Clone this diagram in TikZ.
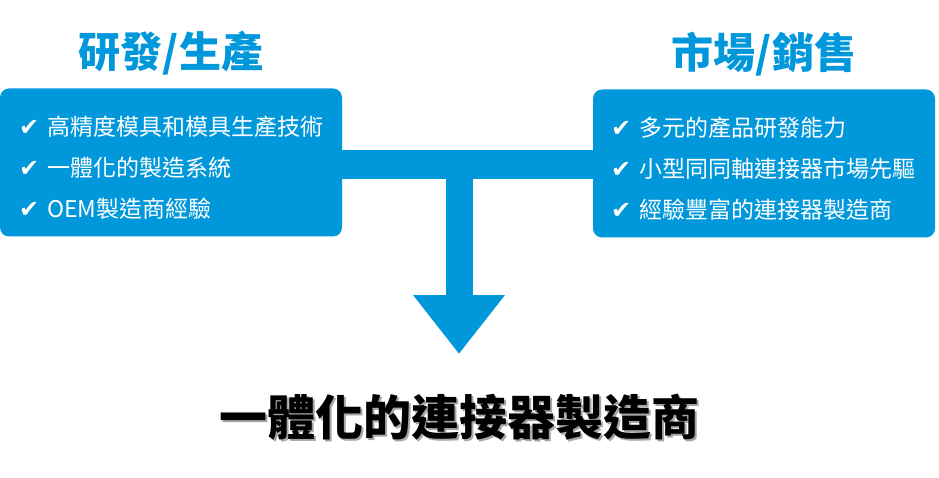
\documentclass[tikz,border=0pt]{standalone}
\usepackage{fontspec}
\newfontfamily\cjk{Noto Sans CJK TC}
\newfontfamily\symb{DejaVu Sans}
\usetikzlibrary{arrows.meta,positioning,backgrounds}
\definecolor{fxblue}{HTML}{0098DB}
\newcommand{\tick}{{\symb\fontsize{24}{41}\selectfont ✔}\hspace{8pt}}

\begin{document}
\begin{tikzpicture}[x=1pt, y=-1pt,
    font=\cjk,
    panel/.style={fill=fxblue, rounded corners=9pt, minimum width=342pt,
      minimum height=148pt, inner sep=0pt},
    items/.style={text=white, align=left, inner sep=0pt,
      font=\cjk\fontsize{23}{41}\selectfont},
    heading/.style={text=fxblue, inner sep=0pt,
      font=\cjk\bfseries\fontsize{42}{46}\selectfont},
    beam/.style={draw=fxblue, line width=29pt},
    flow/.style={draw=fxblue, line width=27pt, -{Triangle[length=59pt, width=88pt]}},
    result/.style={inner sep=0pt, font=\cjk\bfseries\fontsize{48}{52}\selectfont}
  ]
  \useasboundingbox (0,0) rectangle (939,478);

  \node[panel] (rd) at (171,162.5) {};
  \node[panel] (mk) at (764,163.5) {};
  \node[heading, above=13pt of rd] (rdtitle) {研發/生產};
  \node[heading, above=13pt of mk] (mktitle) {市場/銷售};

  \node[items, right=19pt of rd.west, yshift=-5pt] (rdlist)
    {\tick 高精度模具和模具生產技術\\ \tick 一體化的製造系統\\ \tick OEM製造商經驗};
  \node[items, right=18pt of mk.west, yshift=-5pt] (mklist)
    {\tick 多元的產品研發能力\\ \tick 小型同同軸連接器市場先驅\\ \tick 經驗豐富的連接器製造商};

  \coordinate (joint) at (459,164.5);
  \coordinate (tip) at (459,354);
  \draw[beam] (rd.east |- joint) -- (mk.west |- joint);
  \draw[flow] (joint) -- (tip);

  \node[result] (goal) at (459,417) {一體化的連接器製造商};
  \begin{scope}[on background layer]
    \node[result, text=black!35] (goalshade) at ([shift={(2pt,-2pt)}]goal) {一體化的連接器製造商};
  \end{scope}
\end{tikzpicture}
\end{document}
